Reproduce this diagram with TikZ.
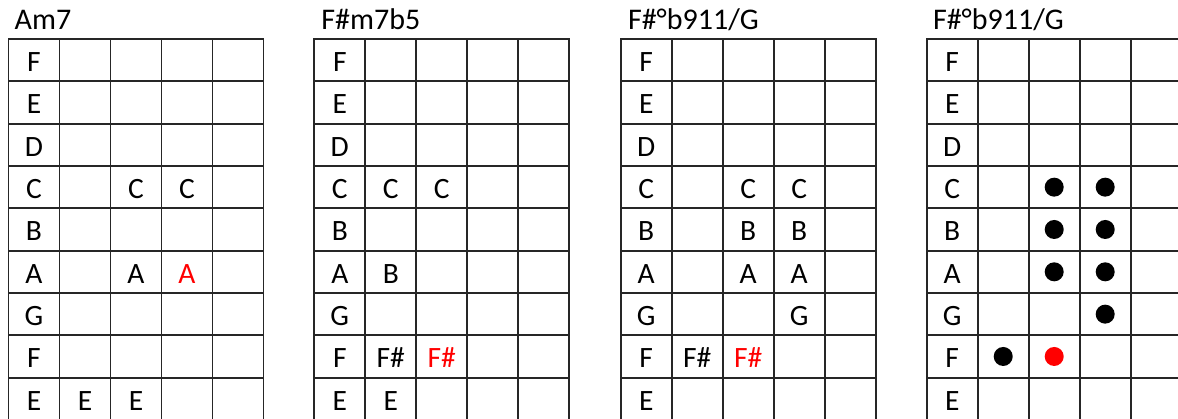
\documentclass[tikz,border=0pt]{standalone}
\usepackage{fontspec}
\setmainfont{Carlito}
\newcommand\chordgrid[2]{%
  \foreach \i in {0,...,5} \draw[gridline] ({#1+\i*51}, 39) -- ({#1+\i*51}, 420.3);
  \foreach \j in {0,...,9} \draw[gridline] (#1, {39+\j*42.33}) -- ({#1+255}, {39+\j*42.33});
  \foreach \n [count=\r from 0] in {F,E,D,C,B,A,G,F,E}
    \node[note] (#2-\r-0) at ({#1+25.5}, {71.67+\r*42.33}) {\n};
}
\newcommand\cellnote[6]{% left, col, row, text, style, name
  \node[#5] (#6) at ({#1+#2*51+25.5}, {71.67+#3*42.33}) {#4};
}
\newcommand\celldot[5]{% left, col, row, style, name
  \node[#4] (#5) at ({#1+#2*51+25.5}, {60.17+#3*42.33}) {};
}
\begin{document}
\begin{tikzpicture}[x=1pt,y=-1pt,
  gridline/.style={line width=1.8pt, draw=black!85, line cap=rect},
  note/.style={font=\fontsize{29.5}{31}\selectfont, anchor=base, inner sep=0pt, text=black},
  rednote/.style={note, text=red},
  title/.style={font=\fontsize{30}{32}\selectfont, anchor=base west, inner sep=0pt},
  blackdot/.style={circle, fill=black, minimum size=19pt, inner sep=0pt},
  reddot/.style={blackdot, fill=red}]
\useasboundingbox (0,0) rectangle (1178,419);
\clip (0,0) rectangle (1178,419);

% Grid 1: Am7
\node[title] (t1) at (14.5,29.3) {Am7};
\chordgrid{8.5}{ga}
\cellnote{8.5}{2}{3}{C}{note}{ga-3-2}
\cellnote{8.5}{3}{3}{C}{note}{ga-3-3}
\cellnote{8.5}{2}{5}{A}{note}{ga-5-2}
\cellnote{8.5}{3}{5}{A}{rednote}{ga-5-3}
\cellnote{8.5}{1}{8}{E}{note}{ga-8-1}
\cellnote{8.5}{2}{8}{E}{note}{ga-8-2}

% Grid 2: F#m7b5
\node[title] (t2) at (321.2,29.3) {F\#m7b5};
\chordgrid{314.3}{gb}
\cellnote{314.3}{1}{3}{C}{note}{gb-3-1}
\cellnote{314.3}{2}{3}{C}{note}{gb-3-2}
\cellnote{314.3}{1}{5}{B}{note}{gb-5-1}
\cellnote{314.3}{1}{7}{F\#}{note}{gb-7-1}
\cellnote{314.3}{2}{7}{F\#}{rednote}{gb-7-2}
\cellnote{314.3}{1}{8}{E}{note}{gb-8-1}

% Grid 3: F#°b911/G
\node[title] (t3) at (627.8,29.3) {F\#°b911/G};
\chordgrid{620.7}{gc}
\cellnote{620.7}{2}{3}{C}{note}{gc-3-2}
\cellnote{620.7}{3}{3}{C}{note}{gc-3-3}
\cellnote{620.7}{2}{4}{B}{note}{gc-4-2}
\cellnote{620.7}{3}{4}{B}{note}{gc-4-3}
\cellnote{620.7}{2}{5}{A}{note}{gc-5-2}
\cellnote{620.7}{3}{5}{A}{note}{gc-5-3}
\cellnote{620.7}{3}{6}{G}{note}{gc-6-3}
\cellnote{620.7}{1}{7}{F\#}{note}{gc-7-1}
\cellnote{620.7}{2}{7}{F\#}{rednote}{gc-7-2}

% Grid 4: F#°b911/G (dots)
\node[title] (t4) at (932.8,29.3) {F\#°b911/G};
\chordgrid{926.7}{gd}
\celldot{926.7}{2}{3}{blackdot}{gd-3-2}
\celldot{926.7}{3}{3}{blackdot}{gd-3-3}
\celldot{926.7}{2}{4}{blackdot}{gd-4-2}
\celldot{926.7}{3}{4}{blackdot}{gd-4-3}
\celldot{926.7}{2}{5}{blackdot}{gd-5-2}
\celldot{926.7}{3}{5}{blackdot}{gd-5-3}
\celldot{926.7}{3}{6}{blackdot}{gd-6-3}
\celldot{926.7}{1}{7}{blackdot}{gd-7-1}
\celldot{926.7}{2}{7}{reddot}{gd-7-2}
\end{tikzpicture}
\end{document}
